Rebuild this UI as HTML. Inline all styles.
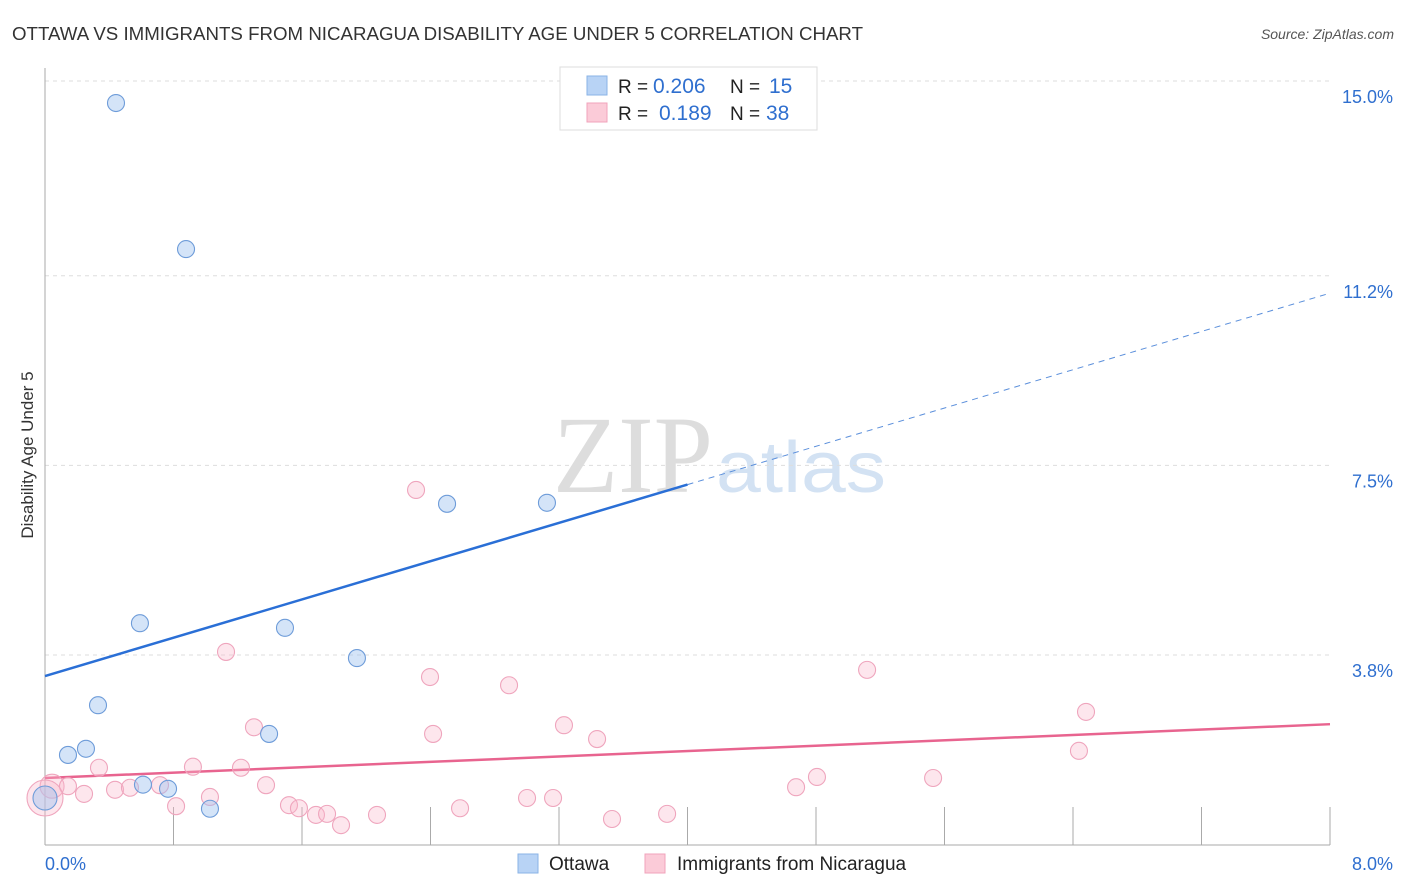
<!DOCTYPE html>
<html><head><meta charset="utf-8"><style>
body{margin:0;background:#fff;font-family:"Liberation Sans",sans-serif;}
svg{display:block}
</style></head><body>
<svg id="chart" width="1406" height="892" xmlns="http://www.w3.org/2000/svg">
<text x="12" y="40" font-size="18" fill="#333" textLength="851" lengthAdjust="spacingAndGlyphs">OTTAWA VS IMMIGRANTS FROM NICARAGUA DISABILITY AGE UNDER 5 CORRELATION CHART</text>
<text x="1394" y="39" font-size="14" fill="#555" font-style="italic" text-anchor="end">Source: ZipAtlas.com</text>
<text x="33" y="455" font-size="17" fill="#333" text-anchor="middle" transform="rotate(-90 33 455)">Disability Age Under 5</text>
<g>
<text x="553" y="492" font-size="110" fill="#ddd" font-family="Liberation Serif,serif" textLength="160" lengthAdjust="spacingAndGlyphs">ZIP</text>
<text x="716" y="492" font-size="72" fill="#d3e2f3" textLength="170" lengthAdjust="spacingAndGlyphs">atlas</text>
</g>
<g id="grid"></g><g id="axes"></g><g id="trends"></g><g id="pts"></g>
<g>
<rect x="560" y="67" width="257" height="63" fill="#fff" stroke="#ddd"/>
<rect x="587" y="76" width="20" height="19" fill="#b8d3f5" stroke="#8ab3e6"/>
<rect x="587" y="103" width="20" height="19" fill="#fbcbd8" stroke="#f0a3bb"/>
<text x="618" y="93" font-size="19" fill="#222">R =</text>
<text x="653" y="93" font-size="21" fill="#2f6fcf">0.206</text>
<text x="730" y="93" font-size="19" fill="#222">N =</text>
<text x="769" y="93" font-size="21" fill="#2f6fcf">15</text>
<text x="618" y="120" font-size="19" fill="#222">R =</text>
<text x="659" y="120" font-size="21" fill="#2f6fcf">0.189</text>
<text x="730" y="120" font-size="19" fill="#222">N =</text>
<text x="766" y="120" font-size="21" fill="#2f6fcf">38</text>
</g>
<g>
<rect x="518" y="854" width="20" height="19" fill="#b8d3f5" stroke="#8ab3e6"/>
<text x="549" y="870" font-size="19" fill="#222">Ottawa</text>
<rect x="645" y="854" width="20" height="19" fill="#fbcbd8" stroke="#f0a3bb"/>
<text x="677" y="870" font-size="19" fill="#222">Immigrants from Nicaragua</text>
</g>
<text x="45" y="870" font-size="18" fill="#2f6fcf">0.0%</text>
<text x="1393" y="870" font-size="18" fill="#2f6fcf" text-anchor="end">8.0%</text>
</svg>
<script>
const yTicks=[3.8,7.5,11.2,15.0];
const yTickLabels=["3.8%","7.5%","11.2%","15.0%"];
const ottawaX=[0.442,0.878,0.591,1.494,1.942,0.330,1.395,0.143,0.255,0.610,0.766,1.027,2.503,3.125,0.0];
const ottawaY=[14.57,11.72,4.42,4.33,3.74,2.82,2.26,1.85,1.97,1.27,1.19,0.80,6.75,6.77,1.01];
const nicX=[2.310,1.127,2.397,2.889,5.118,6.481,1.301,2.416,3.231,3.437,6.437,0.336,0.921,1.220,4.806,5.529,4.676,0.044,0.143,0.243,0.436,0.529,0.716,0.816,1.027,1.376,1.519,1.581,1.687,1.756,1.843,2.067,2.584,3.001,3.163,3.530,3.873,0.0];
const nicY=[7.02,3.86,3.37,3.21,3.51,2.69,2.39,2.26,2.43,2.16,1.93,1.60,1.62,1.60,1.42,1.40,1.22,1.24,1.24,1.09,1.17,1.21,1.26,0.85,1.03,1.26,0.87,0.81,0.68,0.70,0.48,0.68,0.81,1.01,1.01,0.60,0.70,1.01];
const ottawaTrend=[3.39,10.86];
const nicTrend=[1.40,2.45];
const xs=v=>45+v/8*1285;
const ys=v=>849.75-v*51.25;
const NS="http://www.w3.org/2000/svg";
function mk(tag,attrs,parent){const e=document.createElementNS(NS,tag);for(const k in attrs)e.setAttribute(k,attrs[k]);document.getElementById(parent).appendChild(e);return e;}
yTicks.forEach((t,i)=>{
 const l=mk('line',{x1:45,x2:1330,y1:ys(t),y2:ys(t),stroke:'#ddd','stroke-dasharray':'4,4'},'grid');
 
 
 const tx=mk('text',{x:1393,y:ys(t)+22,'font-size':18,fill:'#2f6fcf','text-anchor':'end'},'grid');
 tx.textContent=yTickLabels[i];
 
 
});
const ax=mk('line',{x1:45,x2:1330,y1:845,y2:845,stroke:'#aaa'},'axes');


const ay=mk('line',{x1:45,x2:45,y1:68,y2:845,stroke:'#aaa'},'axes');


for(let i=1;i<=10;i++){const t=mk('line',{x1:xs(i*0.8),x2:xs(i*0.8),y1:807,y2:845,stroke:'#aaa'},'axes');
 
 }
const solidEnd=4.0;
const ty=v=>ottawaTrend[0]+(ottawaTrend[1]-ottawaTrend[0])*v/8;
const b1=mk('line',{x1:xs(0),y1:ys(ottawaTrend[0]),x2:xs(solidEnd),y2:ys(ty(solidEnd)),stroke:'#2a6fd6','stroke-width':2.5},'trends');


const b2=mk('line',{x1:xs(solidEnd),y1:ys(ty(solidEnd)),x2:xs(8),y2:ys(ottawaTrend[1]),stroke:'#5b8fdb','stroke-width':1,'stroke-dasharray':'6,5'},'trends');


const p1=mk('line',{x1:xs(0),y1:ys(nicTrend[0]),x2:xs(8),y2:ys(nicTrend[1]),stroke:'#e8648f','stroke-width':2.5},'trends');


nicX.forEach((x,i)=>{const big=i===nicX.length-1;
 const c=mk('circle',{cx:xs(x),cy:ys(nicY[i]),r:big?18:(i===17?12:8.5),fill:'rgba(248,182,202,0.35)',stroke:'#efa5bd','stroke-width':1.1},'pts');
 
 });
ottawaX.forEach((x,i)=>{const big=i===ottawaX.length-1;
 const c=mk('circle',{cx:xs(x),cy:ys(ottawaY[i]),r:big?12:8.5,fill:'rgba(160,196,240,0.45)',stroke:'#6e9cd9','stroke-width':1.1},'pts');
 
 });
</script>
</body></html>
